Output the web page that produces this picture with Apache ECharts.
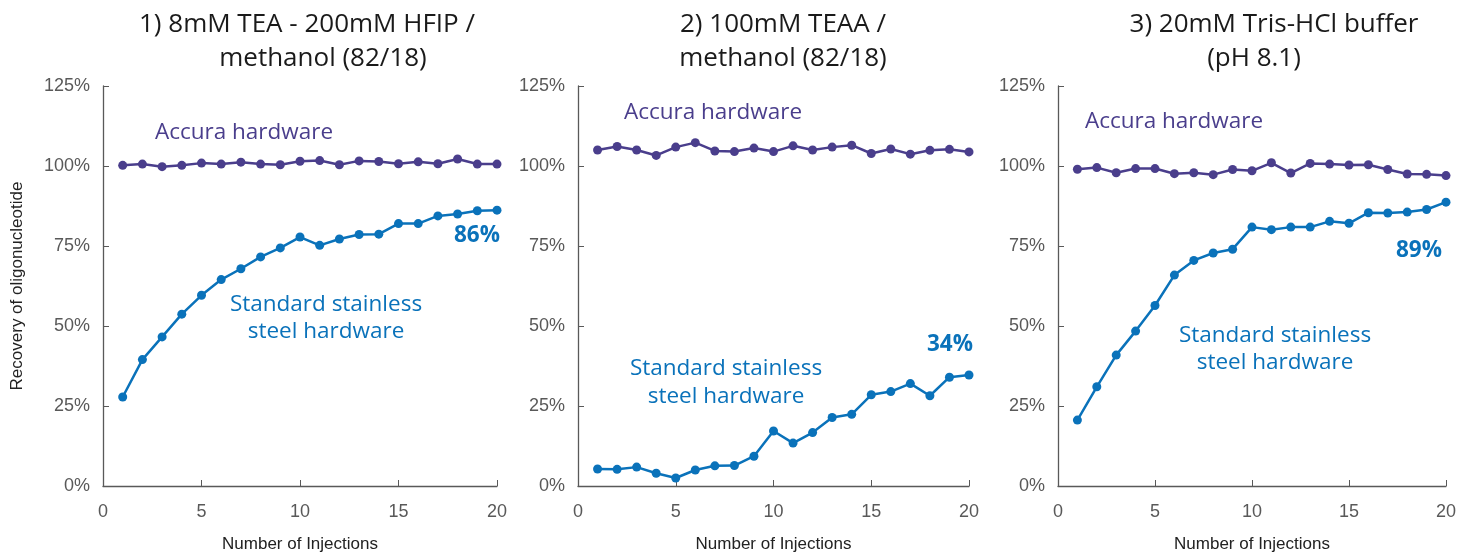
<!DOCTYPE html>
<html>
<head>
<meta charset="utf-8">
<script src="https://cdn.jsdelivr.net/npm/echarts@6/dist/echarts.min.js"></script>
<style>html,body{margin:0;padding:0;background:#fff}#c{width:1460px;height:558px}</style>
</head>
<body>
<div id="c"></div>
<script>
const injections = [1,2,3,4,5,6,7,8,9,10,11,12,13,14,15,16,17,18,19,20];
const accura1 = [100.2,100.6,99.8,100.2,100.9,100.6,101.2,100.6,100.4,101.5,101.7,100.4,101.6,101.4,100.7,101.3,100.7,102.2,100.6,100.6];
const standard1 = [27.8,39.5,46.6,53.7,59.6,64.5,67.9,71.6,74.4,77.8,75.2,77.2,78.6,78.7,82.0,82.0,84.4,85.0,86.0,86.2];
const accura2 = [105.0,106.1,105.0,103.3,105.9,107.3,104.7,104.5,105.6,104.5,106.3,105.0,105.9,106.5,103.9,105.3,103.7,104.9,105.2,104.4];
const standard2 = [5.3,5.2,5.9,4.0,2.5,5.0,6.3,6.4,9.3,17.2,13.4,16.7,21.4,22.4,28.5,29.5,32.0,28.2,34.0,34.7];
const accura3 = [99.0,99.5,97.9,99.2,99.2,97.6,97.9,97.3,98.9,98.5,101.0,97.8,100.8,100.6,100.3,100.4,98.9,97.5,97.4,97.0];
const standard3 = [20.6,31.0,40.9,48.4,56.4,65.9,70.5,72.8,74.0,80.9,80.1,80.9,80.9,82.7,82.1,85.4,85.3,85.6,86.4,88.7];
const titleLines = [
  ["1) 8mM TEA - 200mM HFIP /", "methanol (82/18)"],
  ["2) 100mM TEAA /", "methanol (82/18)"],
  ["3) 20mM Tris-HCl buffer", "(pH 8.1)"]
];
const finalLabels = ["86%", "34%", "89%"];
const accuraLabel = "Accura hardware";
const standardLabel = ["Standard stainless", "steel hardware"];
const yTicks = [0, 25, 50, 75, 100, 125];
const xName = "Number of Injections";
const yName = "Recovery of oligonucleotide";

const PURPLE = '#4a3e8c';
const BLUE = '#0a72ba';
const AX = '#595959';
const TXT_FONT = '"Open Sans", "Noto Sans", sans-serif';
const TICK_FONT = '"Liberation Sans", Arial, sans-serif';

const grids = [
  {left: 103, width: 394, top: 86, height: 407},
  {left: 578, width: 391, top: 86, height: 407},
  {left: 1058, width: 388, top: 86, height: 407}
];
const accData = [accura1, accura2, accura3];
const stdData = [standard1, standard2, standard3];

const xAxes = grids.map((g, i) => ({
  gridIndex: i, type: 'value', min: 0, max: 20, interval: 5,
  name: xName, nameLocation: 'middle', nameGap: 50,
  nameTextStyle: {fontFamily: TICK_FONT, fontSize: 17, color: '#222'},
  axisLine: {show: true, lineStyle: {color: AX, width: 1.3}},
  axisTick: {show: true, inside: true, length: 6, lineStyle: {color: AX}},
  axisLabel: {fontFamily: TICK_FONT, fontSize: 18, color: AX, margin: 17},
  splitLine: {show: false}
}));
const yAxes = grids.map((g, i) => ({
  gridIndex: i, type: 'value', min: 0, max: 125, interval: 25,
  name: i === 0 ? yName : '', nameLocation: 'middle', nameGap: 77,
  nameTextStyle: {fontFamily: TICK_FONT, fontSize: 17, color: '#222'},
  axisLine: {show: true, lineStyle: {color: AX, width: 1.3}},
  axisTick: {show: true, inside: true, length: 6, lineStyle: {color: AX}},
  axisLabel: {fontFamily: TICK_FONT, fontSize: 18, color: AX, margin: 13,
    formatter: v => yTicks.includes(v) ? v + '%' : ''},
  splitLine: {show: false}
}));

const series = [];
grids.forEach((g, i) => {
  series.push({
    type: 'line', xAxisIndex: i, yAxisIndex: i,
    data: injections.map((x, k) => [x, accData[i][k]]),
    symbol: 'circle', symbolSize: 9, color: PURPLE,
    lineStyle: {width: 2.5, color: PURPLE}, itemStyle: {color: PURPLE},
    animation: false
  });
  series.push({
    type: 'line', xAxisIndex: i, yAxisIndex: i,
    data: injections.map((x, k) => [x, stdData[i][k]]),
    symbol: 'circle', symbolSize: 9, color: BLUE,
    lineStyle: {width: 2.5, color: BLUE}, itemStyle: {color: BLUE},
    animation: false
  });
});

function txt(x, y, text, color, size, weight, align) {
  return {type: 'text', x: x, y: y, silent: true,
    style: {text: text, fill: color, font: (weight || 'normal') + ' ' + size + 'px ' + TXT_FONT,
      textAlign: align || 'center', textVerticalAlign: 'middle'}};
}
const titleCenters = [[307, 323], [783, 783], [1274, 1254]];
const accPos = [[244, 133], [713, 113], [1174, 122]];
const stdPos = [[326, 305, 332], [726, 369, 397], [1275, 336, 363]];
const pctPos = [[477, 236], [950, 345], [1419, 251]];

const graphics = [];
for (let i = 0; i < 3; i++) {
  graphics.push(txt(titleCenters[i][0], 25, titleLines[i][0], '#1a1a1a', 26));
  graphics.push(txt(titleCenters[i][1], 59, titleLines[i][1], '#1a1a1a', 26));
  graphics.push(txt(accPos[i][0], accPos[i][1], accuraLabel, PURPLE, 22.5));
  graphics.push(txt(stdPos[i][0], stdPos[i][1], standardLabel[0], BLUE, 22.5));
  graphics.push(txt(stdPos[i][0], stdPos[i][2], standardLabel[1], BLUE, 22.5));
  graphics.push(txt(pctPos[i][0], pctPos[i][1], finalLabels[i], BLUE, 22.5, 'bold'));
}

const chart = echarts.init(document.getElementById('c'));
chart.setOption({
  animation: false,
  grid: grids,
  xAxis: xAxes,
  yAxis: yAxes,
  series: series,
  graphic: graphics
});
</script>
</body>
</html>
